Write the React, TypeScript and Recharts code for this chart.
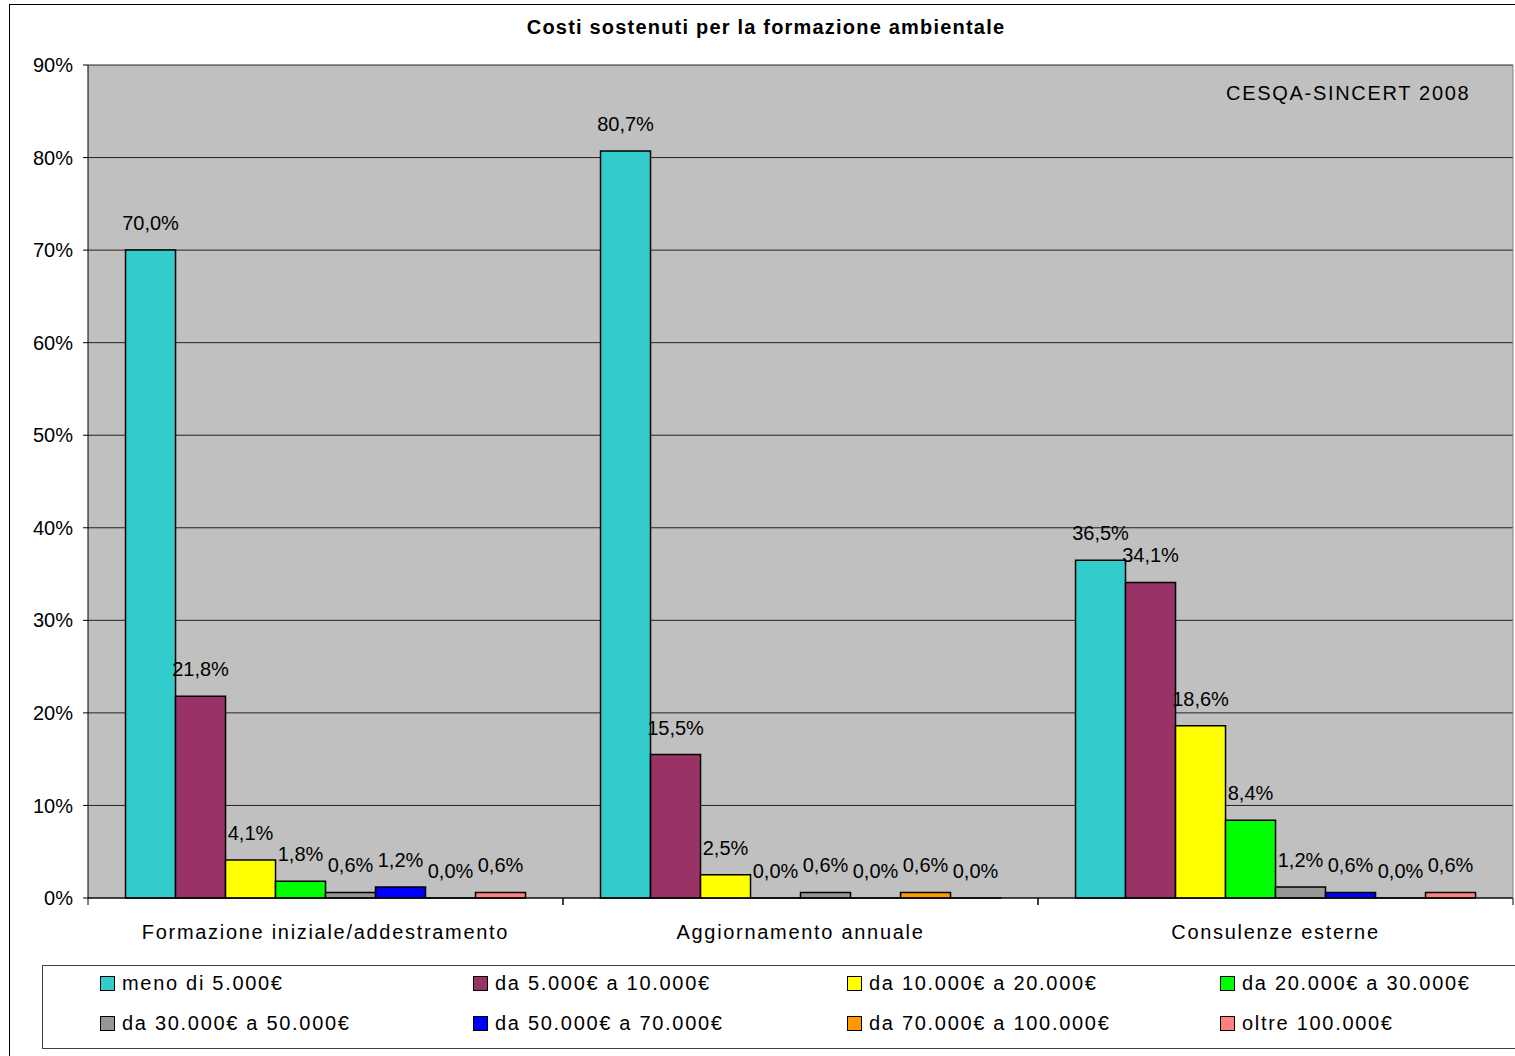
import React from "react"
import { BarChart, Bar, XAxis, YAxis, CartesianGrid, LabelList } from "recharts"

const categories = [
  "Formazione iniziale/addestramento",
  "Aggiornamento annuale",
  "Consulenze esterne",
]

const seriesNames = [
  "meno di 5.000€",
  "da 5.000€ a 10.000€",
  "da 10.000€ a 20.000€",
  "da 20.000€ a 30.000€",
  "da 30.000€ a 50.000€",
  "da 50.000€ a 70.000€",
  "da 70.000€ a 100.000€",
  "oltre 100.000€",
]

const seriesColors = ["#33CCCC", "#993366", "#FFFF00", "#00FF00", "#969696", "#0000FF", "#FF9900", "#FF8080"]

// valori per serie, nell'ordine delle categorie
const meno5 = [70.0, 80.7, 36.5]
const da5a10 = [21.8, 15.5, 34.1]
const da10a20 = [4.1, 2.5, 18.6]
const da20a30 = [1.8, 0.0, 8.4]
const da30a50 = [0.6, 0.6, 1.2]
const da50a70 = [1.2, 0.0, 0.6]
const da70a100 = [0.0, 0.6, 0.0]
const oltre100 = [0.6, 0.0, 0.6]

const seriesValues = [meno5, da5a10, da10a20, da20a30, da30a50, da50a70, da70a100, oltre100]

const yTicks = [0, 10, 20, 30, 40, 50, 60, 70, 80, 90]

const data = categories.map((name, i) => {
  const row: any = { name }
  seriesValues.forEach((vals, s) => {
    row["s" + s] = vals[i]
  })
  return row
})

const FONT = "'Liberation Sans', Arial, sans-serif"
const SPACING = "1.7px"

const fmt = (v: any) => Number(v).toFixed(1).replace(".", ",") + "%"

const ValueLabel = (props: any) => {
  const { x, y, width, index, s } = props
  if (x == null || y == null) return null
  const v = seriesValues[s][index]
  return (
    <text x={Number(x) + Number(width) / 2} y={Number(y) - 27} textAnchor="middle" dominantBaseline="central" fontSize={20} fontFamily={FONT} fill="#000">
      {fmt(v)}
    </text>
  )
}

const CategoryTick = (props: any) => {
  const { x, y, payload } = props
  const half = payload && payload.offset ? payload.offset : 237.8
  return (
    <g>
      <line x1={x - half} y1={y} x2={x - half} y2={y + 7} stroke="#000" />
      <line x1={x + half} y1={y} x2={x + half} y2={y + 7} stroke="#000" />
      <text x={x} y={y + 41} textAnchor="middle" fontSize={20} fontFamily={FONT} fill="#000" letterSpacing={SPACING}>
        {payload.value}
      </text>
    </g>
  )
}

export default function App() {
  return (
    <div style={{ position: "absolute", left: 0, top: 0, width: 1515, height: 1056, background: "#fff", fontFamily: FONT }}>
      <div style={{ position: "absolute", left: 9, top: 4, width: 1520, height: 1060, borderLeft: "1px solid #000", borderTop: "1px solid #000" }} />
      <div style={{ position: "absolute", left: 0, width: 1532, top: 16, textAlign: "center", fontWeight: "bold", fontSize: 20, letterSpacing: "1.2px", color: "#000" }}>
        Costi sostenuti per la formazione ambientale
      </div>
      <BarChart
        width={1515}
        height={1056}
        data={data}
        margin={{ top: 65, right: 0, left: 0, bottom: 98 }}
        barCategoryGap="7.9%"
        barGap={0}
        style={{ position: "absolute", left: 0, top: 0 }}
      >
        <CartesianGrid vertical={false} stroke="#222" fill="#C0C0C0" />
        <XAxis
          dataKey="name"
          height={60}
          axisLine={{ stroke: "#000" }}
          tickLine={false}
          tickSize={0}
          tickMargin={0}
          tick={<CategoryTick />}
          interval={0}
        />
        <YAxis
          width={88}
          domain={[0, 90]}
          ticks={yTicks}
          interval={0}
          tickFormatter={(v) => v + "%"}
          axisLine={{ stroke: "#000" }}
          tickLine={{ stroke: "#000" }}
          tickSize={5}
          tickMargin={10}
          tick={{ fill: "#000", fontSize: 20, fontFamily: FONT }}
        />
        <YAxis
          yAxisId="r"
          orientation="right"
          width={2}
          domain={[0, 90]}
          tick={false}
          tickLine={false}
          axisLine={{ stroke: "#808080" }}
        />
        {seriesNames.map((n, s) => (
          <Bar key={n} dataKey={"s" + s} name={n} fill={seriesColors[s]} stroke="#000" strokeWidth={1.5} minPointSize={0.01} isAnimationActive={false}>
            <LabelList dataKey={"s" + s} content={(p: any) => <ValueLabel {...p} s={s} />} />
          </Bar>
        ))}
      </BarChart>
      <div style={{ position: "absolute", left: 1226, top: 82, fontSize: 20, letterSpacing: SPACING, color: "#000" }}>CESQA-SINCERT 2008</div>
      <div style={{ position: "absolute", left: 42, top: 965, width: 1480, height: 82, border: "1px solid #404040", borderRight: "none" }} />
      {seriesNames.map((n, s) => {
        const col = s % 4
        const row = Math.floor(s / 4)
        const left = [100, 473, 847, 1220][col]
        const top = [983, 1023][row]
        return (
          <div key={n} style={{ position: "absolute", left, top: top - 12, height: 24, display: "flex", alignItems: "center", fontSize: 20, letterSpacing: SPACING, color: "#000", whiteSpace: "nowrap" }}>
            <span style={{ display: "inline-block", width: 13, height: 13, background: seriesColors[s], border: "1.5px solid #000", marginRight: 7 }} />
            {n}
          </div>
        )
      })}
    </div>
  )
}
